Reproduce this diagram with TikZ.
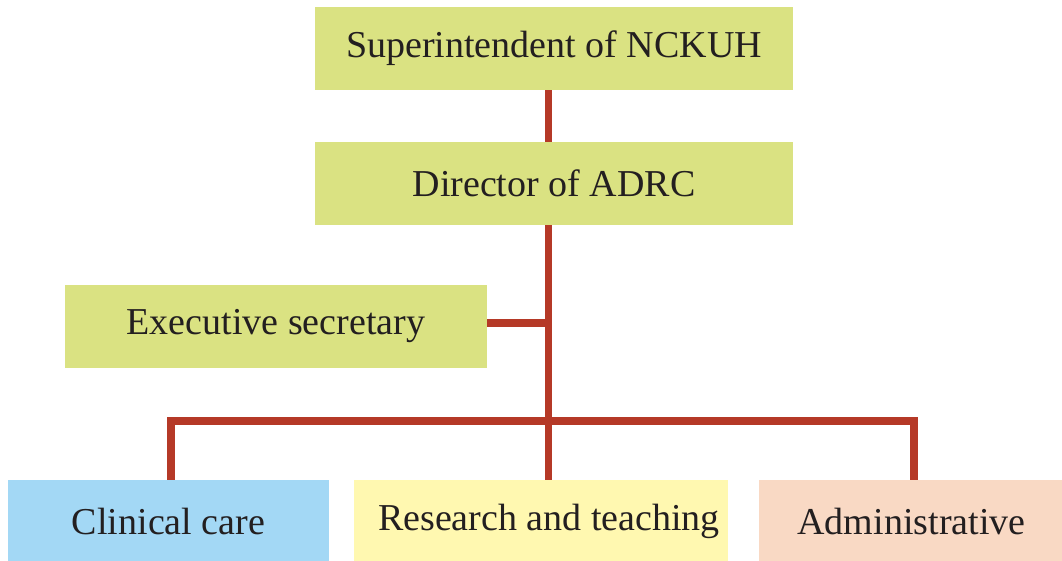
\documentclass[tikz,border=0pt]{standalone}
\usepackage{fontspec}
\setmainfont{Liberation Serif}
\usetikzlibrary{positioning}
\definecolor{boxgreen}{HTML}{DAE282}
\definecolor{careblue}{HTML}{A3D8F5}
\definecolor{resyellow}{HTML}{FFF8B0}
\definecolor{admpeach}{HTML}{F9D9C4}
\definecolor{linkred}{HTML}{B53927}
\definecolor{inkdark}{HTML}{231F20}
\begin{document}
\begin{tikzpicture}[x=1pt,y=-1pt,
            box/.style={minimum height=83pt,inner sep=0pt,text=inkdark,
              font=\fontsize{38}{40}\selectfont},
            link/.style={draw=linkred,line width=7.5pt,line join=miter}]
            \useasboundingbox(0,0)rectangle(1062,561);
            \node[box,fill=boxgreen,minimum width=478pt](sup)at(554,48.5){Superintendent of NCKUH};
            \node[box,fill=boxgreen,minimum width=478pt](dir)at(554,183.5){Director of ADRC};
            \node[box,fill=boxgreen,minimum width=422pt](sec)at(276,326){Executive secretary};
            \node[box,fill=careblue,minimum width=321pt](care)at(168.5,521.5){Clinical care};
            \node[box,fill=resyellow,minimum width=374pt](res)at(541,521.5)
              {\raisebox{5pt}{\hspace*{16pt}Research and teaching}};
            \node[box,fill=admpeach,minimum width=305pt](adm)at(911.5,521.5){Administrative};
            \coordinate(trunk)at(548.5,0);\coordinate(bus)at(0,421);
            \draw[link](sup.south-|trunk)--(dir.north-|trunk);
            \draw[link](dir.south-|trunk)--(res.north-|trunk);
            \draw[link]([yshift=3pt]sec.east)--([yshift=3pt]sec.east-|trunk);
            \draw[link]([xshift=2.5pt]care.north)--([xshift=2.5pt]care.north|-bus)
              --([xshift=2.5pt]adm.north|-bus)--([xshift=2.5pt]adm.north);
        \end{tikzpicture}
\end{document}
